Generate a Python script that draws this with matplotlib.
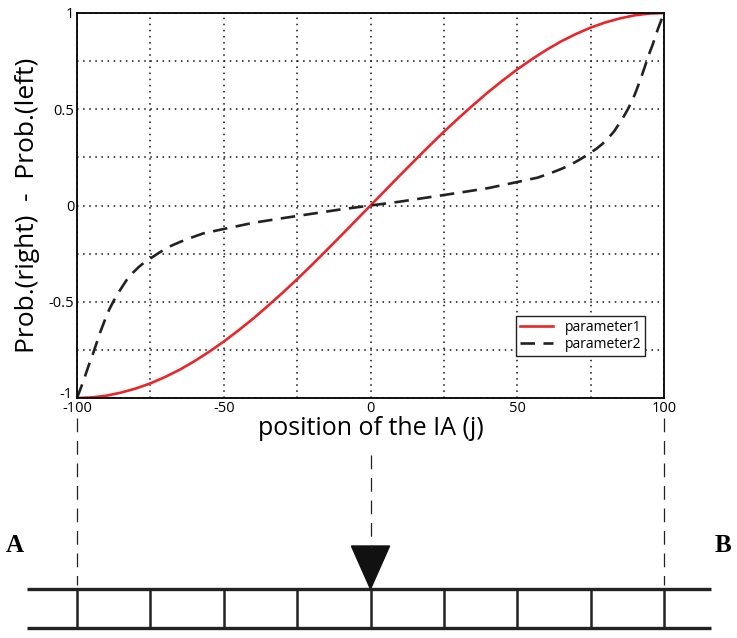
import numpy as np
import matplotlib.pyplot as plt
import matplotlib.transforms as mtransforms
from matplotlib.patches import Polygon

# values
pos = [-100, -95, -90, -85, -80, -75, -70, -65, -60, -55, -50, -45, -40, -35,
       -30, -25, -20, -15, -10, -5, 0, 5, 10, 15, 20, 25, 30, 35, 40, 45, 50,
       55, 60, 65, 70, 75, 80, 85, 90, 95, 100]
param1 = [-1.0, -0.997, -0.988, -0.972, -0.951, -0.924, -0.891, -0.853, -0.809,
          -0.760, -0.707, -0.649, -0.588, -0.522, -0.454, -0.383, -0.309,
          -0.233, -0.156, -0.078, 0.0, 0.078, 0.156, 0.233, 0.309, 0.383,
          0.454, 0.522, 0.588, 0.649, 0.707, 0.760, 0.809, 0.853, 0.891,
          0.924, 0.951, 0.972, 0.988, 0.997, 1.0]

pos2 = [-100, -99, -98, -97, -96, -95, -94, -93, -92, -91, -90, -89, -87.5,
        -86, -84.5, -83, -81, -79, -77, -75, -72, -68, -65, -62, -57, -50,
        -40, -30, -20, -10, 0, 10, 20, 30, 40, 50, 57, 62, 65, 68, 72, 75, 77,
        79, 81, 83, 84.5, 86, 87.5, 89, 90, 91, 92, 93, 94, 95, 96, 97, 98,
        99, 100]
param2 = [-1.0, -0.96, -0.92, -0.875, -0.83, -0.79, -0.745, -0.70, -0.655,
          -0.615, -0.575, -0.54, -0.495, -0.455, -0.42, -0.385, -0.35, -0.32,
          -0.295, -0.275, -0.245, -0.21, -0.19, -0.172, -0.145, -0.122,
          -0.09, -0.066, -0.043, -0.02, 0.0, 0.02, 0.043, 0.066, 0.09, 0.122,
          0.145, 0.172, 0.19, 0.21, 0.245, 0.275, 0.295, 0.32, 0.35, 0.385,
          0.42, 0.455, 0.495, 0.54, 0.575, 0.615, 0.655, 0.70, 0.745, 0.79,
          0.83, 0.875, 0.92, 0.96, 1.0]

grid_x = [-100, -75, -50, -25, 0, 25, 50, 75, 100]
grid_x_labels = ["-100", "", "-50", "", "0", "", "50", "", "100"]
grid_y = [-1, -0.75, -0.5, -0.25, 0, 0.25, 0.5, 0.75, 1]
grid_y_labels = ["-1", "", "-0.5", "", "0", "", "0.5", "", "1"]
rungs = [-100, -75, -50, -25, 0, 25, 50, 75, 100]

plt.rcParams["font.family"] = ["Open Sans", "DejaVu Sans"]

fig = plt.figure(figsize=(7.37, 6.38), dpi=100)

ax = fig.add_axes([77/737, 1 - 398/638, 587/737, 385/638])
ax.plot(pos, param1, color="#e8262b", lw=1.9, label="parameter1")
ax.plot(pos2, param2, color="#222222", lw=1.9, dashes=(5.5, 3.2),
        label="parameter2")

ax.set_xlim(-100, 100)
ax.set_ylim(-1, 1)
ax.set_xticks(grid_x)
ax.set_xticklabels(grid_x_labels)
ax.set_yticks(grid_y)
ax.set_yticklabels(grid_y_labels)
ax.tick_params(length=0, labelsize=10.5, pad=2)
ax.grid(True, color="#111111", linestyle=(0, (1, 3)), lw=1.1)
for s in ax.spines.values():
    s.set_linewidth(1.3)

# nudge the "-1" label up a little so it sits clear of "-100"
lab = ax.get_yticklabels()[0]
lab.set_transform(lab.get_transform() +
                  mtransforms.ScaledTranslation(-1/72, 4/72,
                                                fig.dpi_scale_trans))

ax.set_xlabel("position of the IA (j)", fontsize=18, labelpad=0)
ax.set_ylabel("Prob.(right)  -  Prob.(left)", fontsize=19, labelpad=6)

leg = ax.legend(loc="lower right", bbox_to_anchor=(0.98, 0.09), fontsize=10,
                frameon=True, fancybox=False, edgecolor="#222222",
                handlelength=2.4, borderpad=0.3, labelspacing=0.15,
                framealpha=1)
leg.get_frame().set_linewidth(1.0)

# lower diagram, x shares the data scale of the plot
bx = fig.add_axes([77/737, 0, 587/737, 398/638])
bx.set_xlim(-100, 100)
bx.set_ylim(0, 398)
bx.axis("off")

x_left = -100 - 50 / 587 * 200
x_right = 100 + 47 / 587 * 200
for yy in [638 - 589, 638 - 628]:
    bx.plot([x_left, x_right], [yy, yy], color="#222222", lw=2.4,
            clip_on=False, solid_capstyle="butt")
for r in rungs:
    bx.plot([r, r], [638 - 628, 638 - 589], color="#222222", lw=1.8,
            clip_on=False)

for r in [-100, 100]:
    bx.plot([r, r], [638 - 418, 638 - 585], color="#222222", lw=0.9,
            dashes=(11, 7), clip_on=False)
bx.plot([0, 0], [638 - 455, 638 - 548], color="#222222", lw=0.9,
        dashes=(11, 7), clip_on=False)

arrow = Polygon([[-6.5, 638 - 546], [6.5, 638 - 546], [0, 638 - 589]],
                closed=True, color="#111111", clip_on=False)
bx.add_patch(arrow)

fig.text(6/737, 1 - 545/638, "A", fontsize=18, fontweight="bold",
         family="Liberation Serif", va="center", ha="left")
fig.text(731/737, 1 - 545/638, "B", fontsize=18, fontweight="bold",
         family="Liberation Serif", va="center", ha="right")

fig.savefig("out.png", dpi=100)
